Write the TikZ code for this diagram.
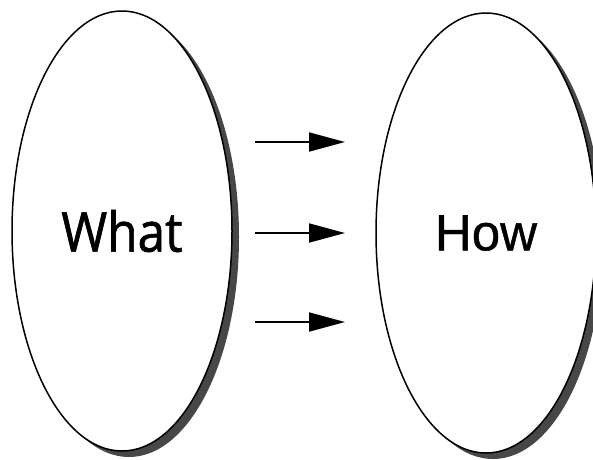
\documentclass[tikz,border=0pt]{standalone}
\usepackage{fontspec}
\usetikzlibrary{shapes.geometric,shadows,arrows.meta}
\newfontfamily\whatfont[FakeStretch=0.9,FakeBold=1.2]{Open Sans}
\newfontfamily\howfont[FakeBold=0.8]{Liberation Sans}
\begin{document}
\begin{tikzpicture}[x=1pt,y=-1pt,
  oval/.style={ellipse, draw=black, line width=1.5pt, fill=white,
    minimum width=220pt, minimum height=440pt, inner sep=0pt,
    general shadow={fill=black!72, shadow xshift=7pt, shadow yshift=-6pt}},
  flow/.style={line width=1.8pt, -{Triangle[length=36pt,width=19pt]}}]
  \useasboundingbox (0,0) rectangle (593,459);
  \clip (0,0) rectangle (593,459);
  \fill[white] (0,0) rectangle (593,459);
  % the two ovals
  \node[oval] (what) at (122,231) {\whatfont\fontsize{55}{60}\selectfont What};
  \node[oval] (how) at (486,233) {\howfont\fontsize{51}{56}\selectfont How};
  % arrows between them
  \foreach \i/\y in {1/142, 2/233, 3/322} {
    \coordinate (s\i) at (255,\y);
    \coordinate (e\i) at (345,\y);
    \draw[flow] (s\i) -- (e\i);
  }
\end{tikzpicture}
\end{document}
